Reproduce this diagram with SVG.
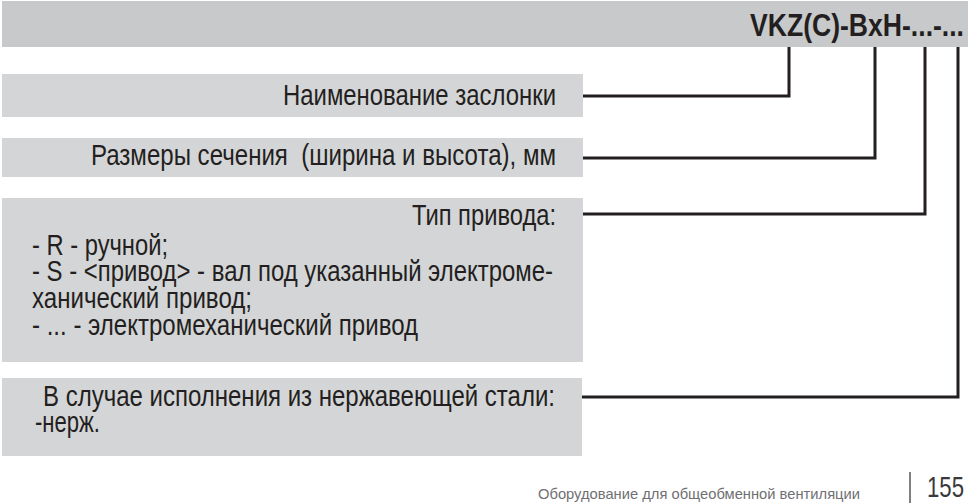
<svg xmlns="http://www.w3.org/2000/svg" width="968" height="504" viewBox="0 0 968 504">
<style>
.bar{fill:#c8c9cb}
.box{fill:#d4d5d7}
.t{font-family:"Liberation Sans","Noto Sans",Arial,sans-serif;font-size:29.5px;fill:#231f20;white-space:pre}
.title{font-family:"Liberation Sans","Noto Sans",Arial,sans-serif;font-size:32px;font-weight:bold;fill:#231f20}
.conn{fill:none;stroke:#231f20;stroke-width:3;stroke-linejoin:miter}
.foot{font-family:"Liberation Sans","Noto Sans",Arial,sans-serif;font-size:15px;fill:#6f7073}
.page{font-family:"Liberation Sans","Noto Sans",Arial,sans-serif;font-size:30px;fill:#3a3a3c}
</style>
<rect width="968" height="504" fill="#ffffff"/>
<g id="code">
<rect class="bar" x="2" y="1" width="966" height="46"/>
<text class="title" x="750" y="36" textLength="214" lengthAdjust="spacingAndGlyphs">VKZ(C)-BxH-...-...</text>
</g>
<g id="node-name">
<rect class="box" x="2" y="74" width="581" height="43"/>
<text class="t" x="283" y="105" textLength="273" lengthAdjust="spacingAndGlyphs">Наименование заслонки</text>
</g>
<g id="node-size">
<rect class="box" x="2" y="138" width="581" height="39"/>
<text class="t" x="91" y="165" textLength="465" lengthAdjust="spacingAndGlyphs">Размеры сечения  (ширина и высота), мм</text>
</g>
<g id="node-drive">
<rect class="box" x="2" y="198" width="581" height="164"/>
<text class="t" x="412" y="225" textLength="144" lengthAdjust="spacingAndGlyphs">Тип привода:</text>
<text class="t" x="32" y="255" textLength="136" lengthAdjust="spacingAndGlyphs">- R - ручной;</text>
<text class="t" x="32" y="281" textLength="521" lengthAdjust="spacingAndGlyphs">- S - &lt;привод&gt; - вал под указанный электроме-</text>
<text class="t" x="32" y="308" textLength="220" lengthAdjust="spacingAndGlyphs">ханический привод;</text>
<text class="t" x="32" y="335" textLength="386" lengthAdjust="spacingAndGlyphs">- ... - электромеханический привод</text>
</g>
<g id="node-steel">
<rect class="box" x="2" y="378" width="580" height="78"/>
<text class="t" x="43" y="406" textLength="512" lengthAdjust="spacingAndGlyphs">В случае исполнения из нержавеющей стали:</text>
<text class="t" x="35" y="432" textLength="65" lengthAdjust="spacingAndGlyphs">-нерж.</text>
</g>
<g id="connectors">
<polyline class="conn" points="583,96 789,96 789,47"/>
<polyline class="conn" points="583,158 875,158 875,47"/>
<polyline class="conn" points="583,214 925,214 925,47"/>
<polyline class="conn" points="582,397 958,397 958,47"/>
</g>
<g id="footer">
<text class="foot" x="538" y="499" textLength="322" lengthAdjust="spacingAndGlyphs">Оборудование для общеобменной вентиляции</text>
<line x1="910" y1="472" x2="910" y2="503" stroke="#4a4a4c" stroke-width="1.4"/>
<text class="page" x="927" y="497" textLength="37" lengthAdjust="spacingAndGlyphs">155</text>
</g>
</svg>
